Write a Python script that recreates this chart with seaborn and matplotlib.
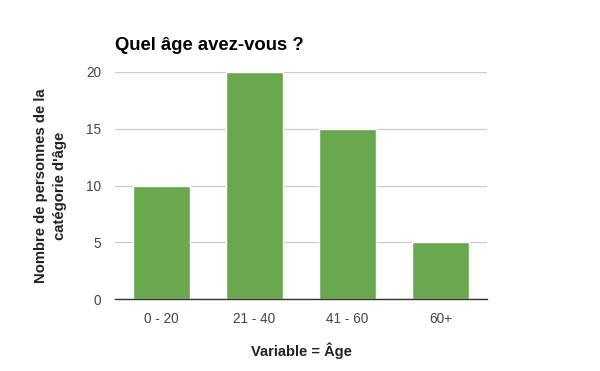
import pandas as pd
import seaborn as sns
import matplotlib.pyplot as plt

# Données
categories = ['0 - 20', '21 - 40', '41 - 60', '60+']
valeurs = [10, 20, 15, 5]

data = pd.DataFrame({'Age': categories, 'Nombre': valeurs})

sns.set_style('white')
plt.rcParams['font.family'] = ['Liberation Sans', 'DejaVu Sans']

fig = plt.figure(figsize=(6, 3.71), dpi=100)
ax = fig.add_axes([0.1917, 0.194, 0.62, 0.612])

sns.barplot(data=data, x='Age', y='Nombre', color='#6aa84f', saturation=1,
            width=0.615, ax=ax, zorder=3)

ax.set_xlim(-0.5, 3.5)
ax.set_ylim(0, 20)
ax.set_yticks([0, 5, 10, 15, 20])
ax.grid(axis='y', color='#cccccc', linewidth=0.9, zorder=0)
ax.set_axisbelow(True)

for s in ['left', 'right', 'top']:
    ax.spines[s].set_visible(False)
ax.spines['bottom'].set_color('#333333')
ax.spines['bottom'].set_linewidth(1)
ax.spines['bottom'].set_zorder(4)

ax.tick_params(axis='both', length=0, labelsize=9.8, colors='#444444')
ax.tick_params(axis='y', pad=10)
ax.tick_params(axis='x', pad=9)

ax.set_xlabel('Variable = Âge', fontsize=10.5, fontweight='bold', color='#222222', labelpad=12)
ax.set_ylabel("Nombre de personnes de la\ncatégorie d'âge", fontsize=10.7, fontweight='bold',
              color='#222222', labelpad=14, linespacing=1.45)

fig.text(0.1917, 0.865, 'Quel âge avez-vous ?', fontsize=13.3, fontweight='bold', color='black')

plt.savefig('out.png', dpi=100)
